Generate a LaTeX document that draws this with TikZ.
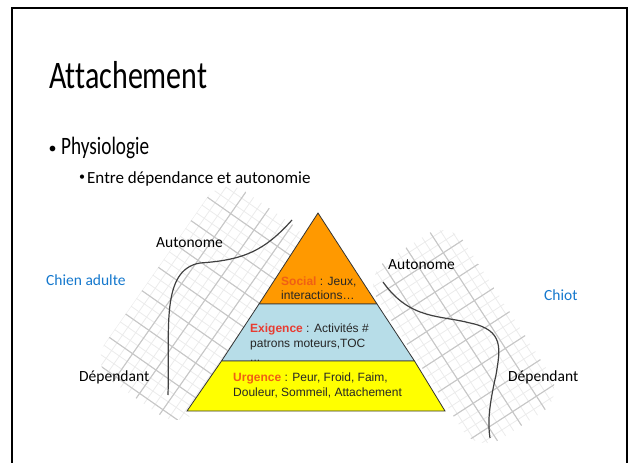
\documentclass[tikz,border=0pt]{standalone}
\usepackage{fontspec}
\setmainfont{Carlito}[Ligatures=NoCommon]
\newfontfamily\arialfont{Liberation Sans}
\usepackage{graphicx}
\usetikzlibrary{calc}
\definecolor{slideblue}{RGB}{21,120,205}
\definecolor{socialorange}{RGB}{255,153,0}
\definecolor{exigblue}{RGB}{183,221,232}
\definecolor{urgyellow}{RGB}{255,255,0}
\definecolor{redword}{RGB}{232,60,50}
\definecolor{orangeword}{RGB}{240,95,20}
\newcommand{\squeeze}[1]{\scalebox{0.77}[1]{#1}}
\tikzstyle{slidetext}=[inner sep=0pt, anchor=base west]
\tikzstyle{sidetext}=[font=\fontsize{15.5}{18}\selectfont, inner sep=0pt, anchor=base west]
\tikzstyle{pyrtext}=[font=\arialfont\fontsize{12}{14}\selectfont, inner sep=0pt, anchor=base west, text=black!85]
\tikzstyle{band}=[draw=black!80, line width=0.8pt]
\tikzstyle{minorgrid}=[draw=black!8, line width=0.8pt]
\tikzstyle{majorgrid}=[draw=black!22, line width=1.1pt]
\tikzstyle{sigmoid}=[draw=black!75, line width=1.2pt]

\begin{document}
\begin{tikzpicture}[x=1pt, y=1pt]
    \useasboundingbox (0,0) rectangle (632,-463);
    % slide frame
    \draw[line width=2.2pt] (12,-470) -- (12,-8) -- (627,-8) -- (627,-470);

    % Title and bullets
    \node[slidetext, font=\fontsize{39}{44}\selectfont] (title) at (49,-88) {\squeeze{Attachement}};
    \node[slidetext, font=\fontsize{16}{20}\selectfont] (bulA) at (48.5,-153) {•};
    \node[slidetext, font=\fontsize{25}{30}\selectfont] (physio) at (61,-154) {\squeeze{Physiologie}};
    \node[slidetext, font=\fontsize{12}{15}\selectfont] (bulB) at (79,-180.5) {•};
    \node[slidetext, font=\fontsize{17}{21}\selectfont] (entre) at (87,-183) {Entre dépendance et autonomie};

    % Grid behind the adult curve
    \begin{scope}[shift={(205,-300)}, rotate=-35]
        \clip[rounded corners=28] (-57,-120) rectangle (57,112);
        \foreach \k in {-57,-47.5,...,57}
            \draw[minorgrid] (\k,-120) -- (\k,112);
        \foreach \k in {-114,-104.5,...,112}
            \draw[minorgrid] (-57,\k) -- (57,\k);
        \foreach \k in {-28.5,0,28.5}
            \draw[majorgrid] (\k,-120) -- (\k,112);
        \foreach \k in {-114,-85.5,...,112}
            \draw[majorgrid] (-57,\k) -- (57,\k);
    \end{scope}

    % Grid behind the puppy curve
    \begin{scope}[shift={(466,-340)}, rotate=33]
        \clip[rounded corners=28] (-52,-102) rectangle (52,110);
        \foreach \k in {-57,-47.5,...,57}
            \draw[minorgrid] (\k,-102) -- (\k,110);
        \foreach \k in {-114,-104.5,...,112}
            \draw[minorgrid] (-52,\k) -- (52,\k);
        \foreach \k in {-28.5,0,28.5}
            \draw[majorgrid] (\k,-102) -- (\k,110);
        \foreach \k in {-85.5,-57,...,112}
            \draw[majorgrid] (-52,\k) -- (52,\k);
    \end{scope}

    % the two curves
    \draw[sigmoid] (168,-395) .. controls (170,-330) and (160,-270) .. (200,-263)
        .. controls (245,-260) and (265,-250) .. (292,-220);
    \draw[sigmoid] (383,-282) .. controls (410,-320) and (440,-315) .. (470,-323)
        .. controls (505,-330) and (500,-350) .. (496,-375)
        .. controls (488,-410) and (488,-425) .. (490,-438);

    % Pyramid
    \path[band, fill=socialorange] (318,-213) -- (377,-304) -- (259,-304) -- cycle;
    \path[band, fill=exigblue] (259,-304) -- (377,-304) -- (414.5,-361) -- (221.5,-361) -- cycle;
    \node[pyrtext] (dots) at (250,-361) {...};
    \path[band, fill=urgyellow] (221.5,-361) -- (414.5,-361) -- (445,-411) -- (187,-411) -- cycle;

    \node[pyrtext] (socA) at (281,-285) {\textcolor{orangeword}{\textbf{Social}} : Jeux,};
    \node[pyrtext] (socB) at (281,-299) {interactions…};
    \node[pyrtext] (exiA) at (250,-332) {\textcolor{redword}{\textbf{Exigence}} : Activités \#};
    \node[pyrtext] (exiB) at (250,-347) {patrons moteurs,TOC};
    \node[pyrtext] (urgA) at (233,-381) {\textcolor{orangeword}{\textbf{Urgence}} : Peur, Froid, Faim,};
    \node[pyrtext] (urgB) at (233,-396) {Douleur, Sommeil, Attachement};

    % side labels
    \node[sidetext, text=slideblue] (adulte) at (46,-285.5) {Chien adulte};
    \node[sidetext] (autoL) at (156,-247) {Autonome};
    \node[sidetext] (depL) at (79,-381) {Dépendant};
    \node[sidetext] (autoR) at (388,-269) {Autonome};
    \node[sidetext, text=slideblue] (chiot) at (544,-300.5) {Chiot};
    \node[sidetext] (depR) at (508,-381) {Dépendant};
\end{tikzpicture}
\end{document}
